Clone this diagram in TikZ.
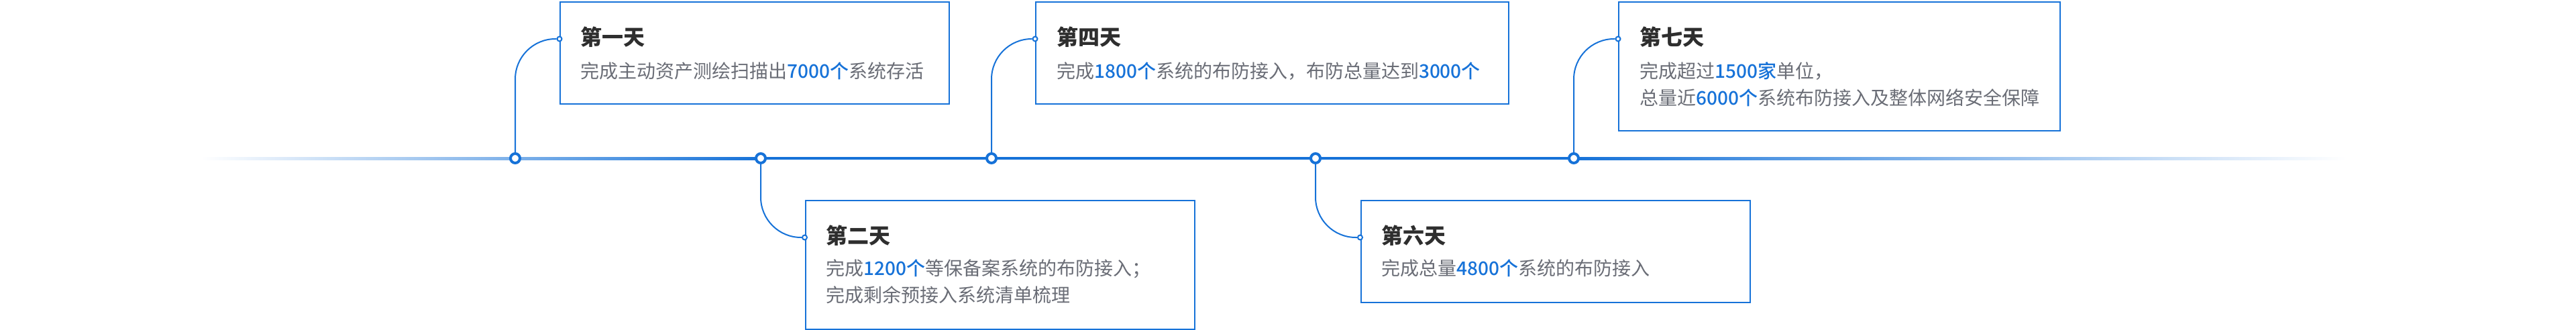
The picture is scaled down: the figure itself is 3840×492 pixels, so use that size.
\documentclass[tikz,border=0pt]{standalone}
\usepackage{fontspec}
\setmainfont{Noto Sans CJK SC}
\newfontfamily\medfont{Noto Sans CJK SC Medium}
\usepackage{tikz}
\usetikzlibrary{positioning}
\definecolor{tlblue}{HTML}{1672D8}
\definecolor{tltitle}{HTML}{2E2E2E}
\definecolor{tlgray}{HTML}{6A6D76}
\newcommand{\hl}[1]{\textcolor{tlblue}{\medfont #1}}

\begin{document}
\begin{tikzpicture}[x=1pt, y=-1pt,
    card/.style={draw=tlblue, line width=2pt, fill=white, anchor=north west, minimum height=152pt, inner sep=0pt},
    tallcard/.style={card, minimum height=192pt},
    daytitle/.style={anchor=west, inner sep=0pt, text=tltitle, font=\fontsize{32}{40}\selectfont\bfseries},
    daytext/.style={anchor=west, inner sep=0pt, align=left, text=tlgray, font=\fontsize{28}{40}\selectfont},
    daynode/.style={circle, draw=tlblue, line width=4pt, fill=white, minimum size=14pt, inner sep=0pt},
    jointdot/.style={circle, draw=tlblue, line width=2pt, fill=white, minimum size=7pt, inner sep=0pt},
    link/.style={draw=tlblue, line width=2pt, rounded corners=60pt}
]
    \useasboundingbox (0,0) rectangle (3840,492);

    % time axis
    \coordinate (axL) at (300,236);
    \coordinate (axA) at (1134,236);
    \coordinate (axB) at (2346,236);
    \coordinate (axR) at (3497,236);
    \shade[left color=white, right color=tlblue] ([yshift=2pt]axL) rectangle ([yshift=-2pt]axA);
    \fill[tlblue] ([yshift=2pt]axA) rectangle ([yshift=-2pt]axB);
    \shade[left color=tlblue, right color=white] ([yshift=2pt]axB) rectangle ([yshift=-2pt]axR);

    % cards
    \node[card, minimum width=580pt] (c1) at (834,2) {};
    \node[tallcard, minimum width=580pt] (c2) at (1199.5,298) {};
    \node[card, minimum width=705pt] (c4) at (1543,2) {};
    \node[card, minimum width=580pt] (c6) at (2027.5,298) {};
    \node[tallcard, minimum width=658pt] (c7) at (2412,2) {};

    \node[daytitle] (t1) at ([shift={(31,53)}]c1.north west) {第一天};
    \node[daytext]  (x1) at ([shift={(31,104)}]c1.north west) {完成主动资产测绘扫描出\hl{7000个}系统存活};
    \node[daytitle] (t2) at ([shift={(32,53)}]c2.north west) {第二天};
    \node[daytext]  (x2) at ([shift={(32,122)}]c2.north west) {完成\hl{1200个}等保备案系统的布防接入；\\完成剩余预接入系统清单梳理};
    \node[daytitle] (t4) at ([shift={(32,53)}]c4.north west) {第四天};
    \node[daytext]  (x4) at ([shift={(32,104)}]c4.north west) {完成\hl{1800个}系统的布防接入，布防总量达到\hl{3000个}};
    \node[daytitle] (t6) at ([shift={(32,53)}]c6.north west) {第六天};
    \node[daytext]  (x6) at ([shift={(32,102)}]c6.north west) {完成总量\hl{4800个}系统的布防接入};
    \node[daytitle] (t7) at ([shift={(32,53)}]c7.north west) {第七天};
    \node[daytext]  (x7) at ([shift={(32,124)}]c7.north west) {完成超过\hl{1500家}单位，\\总量近\hl{6000个}系统布防接入及整体网络安全保障};

    % dots on the cards
    \node[jointdot] (d1) at ([shift={(0,56)}]c1.north west) {};
    \node[jointdot] (d2) at ([shift={(0,56)}]c2.north west) {};
    \node[jointdot] (d4) at ([shift={(0,56)}]c4.north west) {};
    \node[jointdot] (d6) at ([shift={(0,56)}]c6.north west) {};
    \node[jointdot] (d7) at ([shift={(0,56)}]c7.north west) {};

    % milestones on the axis
    \node[daynode] (n1) at (768,236) {};
    \node[daynode] (n2) at (1134,236) {};
    \node[daynode] (n4) at (1478,236) {};
    \node[daynode] (n6) at (1961,236) {};
    \node[daynode] (n7) at (2346,236) {};

    \draw[link] (n1) |- (d1);
    \draw[link] (n2) |- (d2);
    \draw[link] (n4) |- (d4);
    \draw[link] (n6) |- (d6);
    \draw[link] (n7) |- (d7);
\end{tikzpicture}
\end{document}
